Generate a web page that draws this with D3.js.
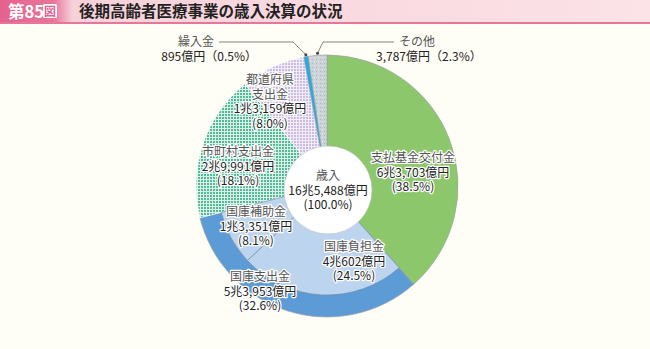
<!DOCTYPE html>
<html><head><meta charset="utf-8">
<script src="https://cdn.jsdelivr.net/npm/d3@7"></script>
<style>
html,body{margin:0;padding:0;background:#fffef6;}
svg{display:block;font-family:"Noto Sans CJK JP","Noto Sans",sans-serif;}
</style></head>
<body><svg id="c" width="650" height="349"></svg>
<script>
// ---- data ----
const figNo = "第85";
const title = "後期高齢者医療事業の歳入決算の状況";
const categories = ["支払基金交付金","国庫支出金","市町村支出金","都道府県支出金","繰入金","その他"];
const values = [63703, 53953, 29991, 13159, 895, 3787]; // 億円
const valueLabels = ["6兆3,703億円","5兆3,953億円","2兆9,991億円","1兆3,159億円","895億円","3,787億円"];
const pctLabels = ["38.5%","32.6%","18.1%","8.0%","0.5%","2.3%"];
const subCategories = ["国庫負担金","国庫補助金"];
const subValues = [40602, 13351];
const subValueLabels = ["4兆602億円","1兆3,351億円"];
const subPctLabels = ["24.5%","8.1%"];
const totalLabel = ["歳入","16兆5,488億円","(100.0%)"];

const svg = d3.select("#c");
const W = 650, H = 349;
svg.append("rect").attr("width",W).attr("height",H).attr("fill","#fffef6");

// ---- title bar ----
const defs = svg.append("defs");
const tg = defs.append("linearGradient").attr("id","tbg").attr("x1",0).attr("x2",1);
tg.append("stop").attr("offset","0%").attr("stop-color","#f7cfd8");
tg.append("stop").attr("offset","100%").attr("stop-color","#fbe3e7");
svg.append("rect").attr("x",0).attr("y",0).attr("width",W).attr("height",22).attr("fill","url(#tbg)");
const lg = defs.append("linearGradient").attr("id","lbg").attr("x1",0).attr("x2",1);
lg.append("stop").attr("offset","0%").attr("stop-color","#e5628c");
lg.append("stop").attr("offset","75%").attr("stop-color","#e9769a");
lg.append("stop").attr("offset","100%").attr("stop-color","#f7cfd8");
svg.append("rect").attr("x",0).attr("y",0).attr("width",72).attr("height",22).attr("fill","url(#lbg)");
svg.append("rect").attr("x",0).attr("y",22).attr("width",W).attr("height",2).attr("fill","#e8759a");
svg.append("text").attr("x",8).attr("y",17.5).attr("fill","#fff").attr("font-size",16.5).attr("font-weight",700).text(figNo);
svg.append("rect").attr("x",43).attr("y",4).attr("width",14).attr("height",14).attr("rx",1.5).attr("fill","#fff");
svg.append("text").attr("x",50).attr("y",16).attr("text-anchor","middle").attr("fill","#e5628c").attr("font-size",12).attr("font-weight",700).text("図");
svg.append("text").attr("x",79).attr("y",17).attr("fill","#222").attr("font-size",15.5).attr("font-weight",700).text(title);

// ---- patterns ----
const pTeal = defs.append("pattern").attr("id","pTeal").attr("width",3).attr("height",3).attr("patternUnits","userSpaceOnUse");
pTeal.append("rect").attr("width",3).attr("height",3).attr("fill","#dcf2e9");
pTeal.append("rect").attr("width",2).attr("height",2).attr("fill","#52ba96");
const pLav = defs.append("pattern").attr("id","pLav").attr("width",3).attr("height",3).attr("patternUnits","userSpaceOnUse");
pLav.append("rect").attr("width",3).attr("height",3).attr("fill","#f1ecf7");
pLav.append("rect").attr("width",2).attr("height",2).attr("fill","#cbbce0");
const pGray = defs.append("pattern").attr("id","pGray").attr("width",4).attr("height",4).attr("patternUnits","userSpaceOnUse");
pGray.append("rect").attr("width",4).attr("height",4).attr("fill","#cdd4d8");
pGray.append("rect").attr("x",1).attr("y",1).attr("width",1).attr("height",1).attr("fill","#aab3b8");
pGray.append("rect").attr("x",3).attr("y",3).attr("width",1).attr("height",1).attr("fill","#e2e7ea");

const fills = ["#8cc76c","#5c9bd6","url(#pTeal)","url(#pLav)","#27a9e1","url(#pGray)"];
const subFills = ["#bdd4ee","#bdd4ee"];

// ---- pie ----
const cx = 327, cy = 186, R = 131, Rin = 109, Rc = 44;
const g = svg.append("g").attr("transform",`translate(${cx},${cy})`);
const pie = d3.pie().sort(null).value(d=>d);
const arcs = pie(values);
const arc = d3.arc().innerRadius(0).outerRadius(R);
g.selectAll("path.main").data(arcs).join("path").attr("class","main")
  .attr("d",arc).attr("fill",(d,i)=>fills[i]).attr("stroke",(d,i)=>i===2||i===3?"#ffffff":"#9aa0a3").attr("stroke-width",0.7);
// sub pie inside 国庫支出金
const kd = arcs[1];
const subPie = d3.pie().sort(null).value(d=>d).startAngle(kd.startAngle).endAngle(kd.endAngle);
const subArcs = subPie(subValues);
const subArc = d3.arc().innerRadius(0).outerRadius(Rin);
g.selectAll("path.sub").data(subArcs).join("path").attr("class","sub")
  .attr("d",subArc).attr("fill",(d,i)=>subFills[i]).attr("stroke","#6f8aa8").attr("stroke-width",0.6);
// center circle
g.append("circle").attr("cx",1).attr("cy",4).attr("r",Rc).attr("fill","#fff").attr("stroke","#bbb").attr("stroke-width",0.5);

// ---- labels ----
const FS = 12;
function label(x, y, lines, colors, anchor){
  const t = svg.append("text").attr("x",x).attr("y",y).attr("text-anchor",anchor||"middle")
    .attr("font-size",FS).attr("paint-order","stroke").attr("stroke","#fff").attr("stroke-width",2.5).attr("stroke-linejoin","round");
  lines.forEach((s,i)=>{
    t.append("tspan").attr("x",x).attr("dy",i===0?0:14.5).attr("fill",colors[i]).text(s);
  });
}
const nameC = "#555", numC = "#222";
label(413,162,[categories[0],valueLabels[0],"("+pctLabels[0]+")"],[nameC,numC,numC]);
label(270,84,["都道府県","支出金",valueLabels[3],"("+pctLabels[3]+")"],[nameC,nameC,numC,numC]);
label(238,156,[categories[2],valueLabels[2],"("+pctLabels[2]+")"],[nameC,numC,numC]);
label(256,216,[subCategories[1],subValueLabels[1],"("+subPctLabels[1]+")"],[nameC,numC,numC]);
label(354,251,[subCategories[0],subValueLabels[0],"("+subPctLabels[0]+")"],[nameC,numC,numC]);
label(260,281,[categories[1],valueLabels[1],"("+pctLabels[1]+")"],[nameC,numC,numC]);
label(328,180,totalLabel,[nameC,numC,numC]);

// outside labels with leaders
function midPt(d){ const a=(d.startAngle+d.endAngle)/2; return [cx+Math.sin(a)*(R+1), cy-Math.cos(a)*(R+1)]; }
const pk = midPt(arcs[4]), po = midPt(arcs[5]);
const lead = svg.append("g").attr("fill","none").attr("stroke","#666").attr("stroke-width",0.8);
lead.append("polyline").attr("points",`219,42 293,42 ${pk[0]},${pk[1]-1}`);
lead.append("polyline").attr("points",`394,42 323,42 ${po[0]},${po[1]-1}`);
svg.append("circle").attr("cx",pk[0]).attr("cy",pk[1]-1).attr("r",1.5).attr("fill","#444");
svg.append("circle").attr("cx",po[0]).attr("cy",po[1]-1).attr("r",1.5).attr("fill","#444");
const t1 = svg.append("text").attr("font-size",FS);
t1.append("tspan").attr("x",214).attr("y",46).attr("text-anchor","end").attr("fill",nameC).text(categories[4]);
t1.append("tspan").attr("x",257).attr("y",61).attr("text-anchor","end").attr("fill",numC).text(valueLabels[4]+"（"+pctLabels[4]+"）");
const t2 = svg.append("text").attr("font-size",FS);
t2.append("tspan").attr("x",399).attr("y",46).attr("fill",nameC).text(categories[5]);
t2.append("tspan").attr("x",376).attr("y",61).attr("fill",numC).text(valueLabels[5]+"（"+pctLabels[5]+"）");
</script></body></html>
